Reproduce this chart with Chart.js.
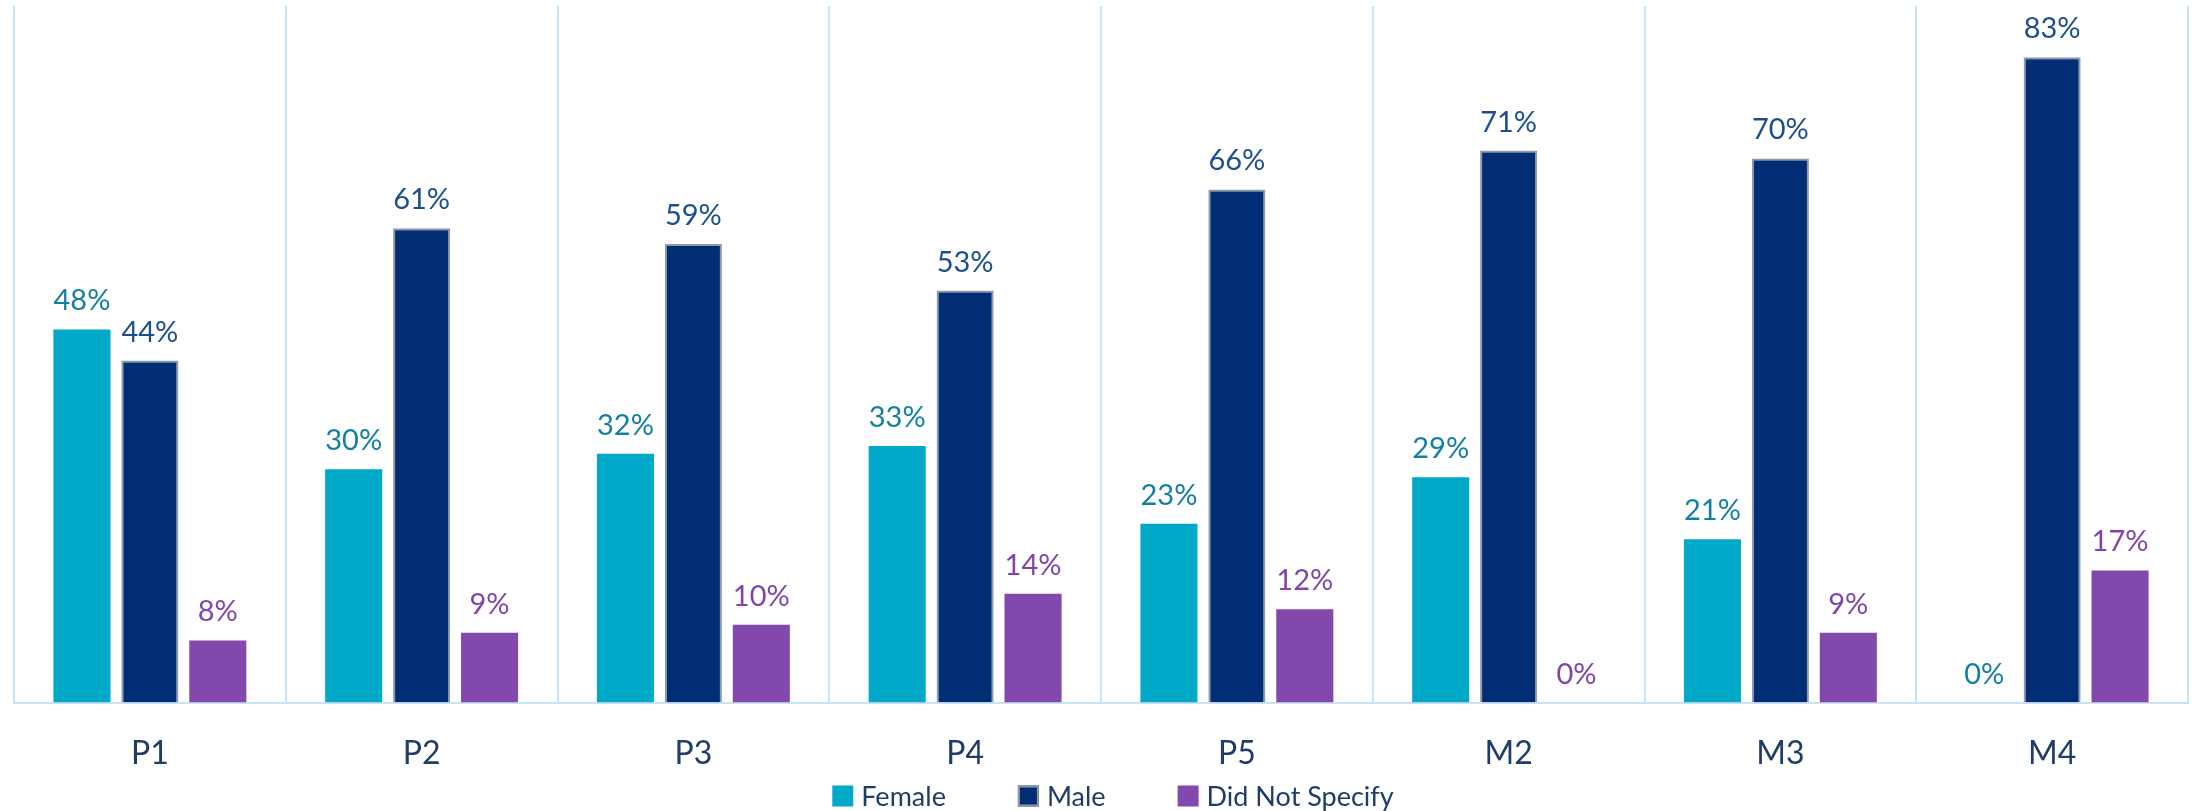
<!DOCTYPE html>
<html>
<head>
<meta charset="utf-8">
<script src="https://cdn.jsdelivr.net/npm/chart.js@4/dist/chart.umd.min.js"></script>
<style>
  html, body { margin: 0; padding: 0; background: #fff; }
  #wrap { width: 2199px; height: 811px; }
</style>
</head>
<body>
<div id="wrap"><canvas id="genderChart" width="2199" height="811"></canvas></div>
<script>
var categories = ['P1', 'P2', 'P3', 'P4', 'P5', 'M2', 'M3', 'M4'];
var female = [48, 30, 32, 33, 23, 29, 21, 0];
var male = [44, 61, 59, 53, 66, 71, 70, 83];
var notSpecified = [8, 9, 10, 14, 12, 0, 9, 17];

var labelColors = ['#137fa3', '#1d4f8f', '#7f45ad'];
var textColor = '#1f3d66';

// percent labels above each bar
var valueLabels = {
  id: 'valueLabels',
  afterDatasetsDraw: function(chart) {
    var ctx = chart.ctx;
    ctx.save();
    ctx.font = '29px Lato';
    ctx.textAlign = 'center';
    ctx.textBaseline = 'alphabetic';
    chart.data.datasets.forEach(function(ds, i) {
      var meta = chart.getDatasetMeta(i);
      ctx.fillStyle = labelColors[i];
      meta.data.forEach(function(bar, j) {
        ctx.fillText(ds.data[j] + '%', bar.x, bar.y - 19);
      });
    });
    ctx.restore();
  }
};

// excel-like legend under the axis labels
var bottomLegend = {
  id: 'bottomLegend',
  afterDraw: function(chart) {
    var ctx = chart.ctx;
    var box = 21, gap = 8, spacing = 72;
    ctx.save();
    ctx.font = '27px Lato';
    ctx.textBaseline = 'middle';
    var items = chart.data.datasets.map(function(ds) {
      return { ds: ds, w: ctx.measureText(ds.label).width };
    });
    var total = 0;
    items.forEach(function(it, i) {
      total += box + gap + it.w + (i < items.length - 1 ? spacing : 0);
    });
    var area = chart.chartArea;
    var x = (area.left + area.right) / 2 - total / 2 + 12;
    var y = 796;
    items.forEach(function(it) {
      ctx.fillStyle = it.ds.backgroundColor;
      ctx.fillRect(x, y - box / 2, box, box);
      if (it.ds.borderWidth) {
        ctx.strokeStyle = it.ds.borderColor;
        ctx.lineWidth = 2;
        ctx.strokeRect(x + 1, y - box / 2 + 1, box - 2, box - 2);
      }
      ctx.fillStyle = textColor;
      ctx.fillText(it.ds.label, x + box + gap, y + 1);
      x += box + gap + it.w + spacing;
    });
    ctx.restore();
  }
};

var config = {
  type: 'bar',
  data: {
    labels: categories,
    datasets: [{
      label: 'Female',
      data: female,
      backgroundColor: '#00a9c8',
      borderWidth: 0
    }, {
      label: 'Male',
      data: male,
      backgroundColor: '#002d74',
      borderColor: '#8f9aa8',
      borderWidth: 2
    }, {
      label: 'Did Not Specify',
      data: notSpecified,
      backgroundColor: '#8248ab',
      borderWidth: 0
    }]
  },
  options: {
    responsive: false,
    animation: false,
    categoryPercentage: 0.75,
    barPercentage: 0.84,
    layout: {
      padding: { left: 14, right: 11, top: 6, bottom: 6 }
    },
    plugins: {
      legend: { display: false },
      tooltip: { enabled: false }
    },
    scales: {
      x: {
        grid: {
          color: '#c8e3f8',
          lineWidth: 2,
          offset: true,
          drawTicks: false
        },
        border: { color: '#c8e3f8', width: 2 },
        ticks: {
          color: textColor,
          font: { family: 'Lato', size: 32 },
          padding: 32
        }
      },
      y: {
        display: false,
        min: 0,
        max: 89.6
      }
    }
  },
  plugins: [valueLabels, bottomLegend]
};

window.onload = function() {
  var ctx = document.getElementById('genderChart').getContext('2d');
  window.genderChart = new Chart(ctx, config);
};
</script>
</body>
</html>
